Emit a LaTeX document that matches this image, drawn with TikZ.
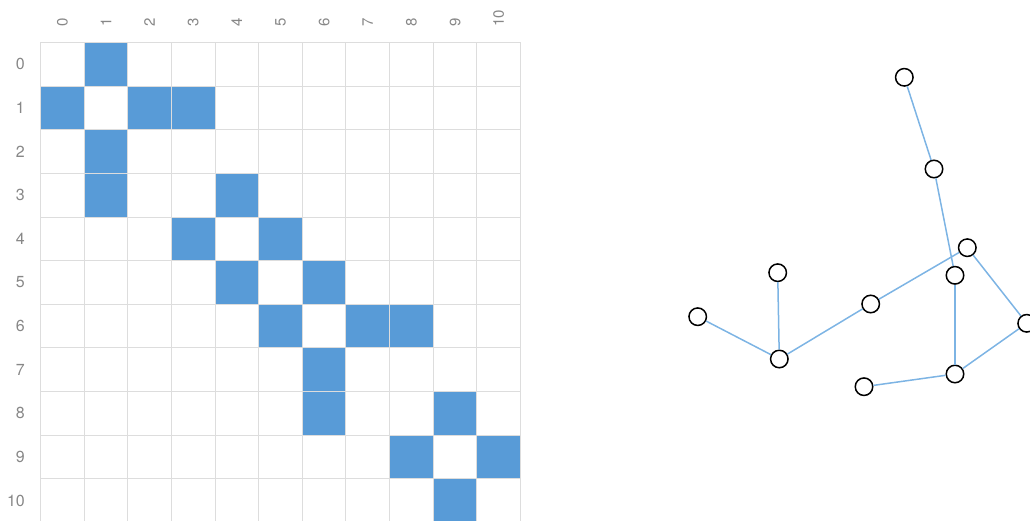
\documentclass[tikz,border=0pt]{standalone}
\usepackage{fontspec}
\setmainfont{TeX Gyre Heros}
\definecolor{cellblue}{RGB}{88,155,215}
\definecolor{gridgrey}{RGB}{221,221,221}
\definecolor{labelgrey}{RGB}{135,135,135}
\definecolor{edgeblue}{RGB}{125,180,228}
\tikzset{
  vtx/.style={circle,draw=black,line width=1.5pt,fill=white,minimum size=17.5pt,inner sep=0pt},
  edge/.style={draw=edgeblue,line width=1.5pt},
  rowlab/.style={anchor=east,inner sep=0pt,text=labelgrey,font=\fontsize{16}{16}\selectfont},
  collab/.style={anchor=west,inner sep=0pt,rotate=90,text=labelgrey,font=\fontsize{15}{15}\selectfont},
}
\begin{document}
\begin{tikzpicture}[x=1pt,y=-1pt]
\useasboundingbox (0,0) rectangle (1030,521);
\def\cw{43.636}
% filled cells
\foreach \r/\c in {0/1,1/0,1/2,1/3,2/1,3/1,3/4,4/3,4/5,5/4,5/6,6/5,6/7,6/8,7/6,8/6,8/9,9/8,9/10,10/9}{
  \fill[cellblue] ({40.5+\c*\cw},{42.5+\r*\cw}) rectangle ++(\cw,\cw);
}
% grid
\begin{scope}
\clip (0,0) rectangle (1030,521);
\foreach \i in {0,...,11}{
  \draw[gridgrey,line width=1pt] ({40.5+\i*\cw},42.5) -- ({40.5+\i*\cw},523);
  \draw[gridgrey,line width=1pt] (40.5,{42.5+\i*\cw}) -- (520.5,{42.5+\i*\cw});
}
\end{scope}
% labels
\foreach \i in {0,...,10}{
  \node[rowlab] (r\i) at (25,{42.5+(\i+0.5)*\cw}) {\i};
  \node[collab] (c\i) at ({40.5+(\i+0.5)*\cw},27) {\i};
}
% graph
\node[vtx] (n0) at (777.7,272.7) {};
\node[vtx] (n1) at (779.3,359) {};
\node[vtx] (n2) at (697.7,316.7) {};
\node[vtx] (n3) at (870.7,304) {};
\node[vtx] (n4) at (967.3,247.7) {};
\node[vtx] (n5) at (1026.7,323.3) {};
\node[vtx] (n6) at (955,374) {};
\node[vtx] (n7) at (864,386.7) {};
\node[vtx] (n8) at (955,275.3) {};
\node[vtx] (n9) at (934,169) {};
\node[vtx] (n10) at (904.3,77.3) {};
\foreach \a/\b in {n0/n1,n1/n2,n1/n3,n3/n4,n4/n5,n5/n6,n6/n7,n6/n8,n8/n9,n9/n10}{
  \draw[edge] (\a) -- (\b);
}
\end{tikzpicture}
\end{document}
